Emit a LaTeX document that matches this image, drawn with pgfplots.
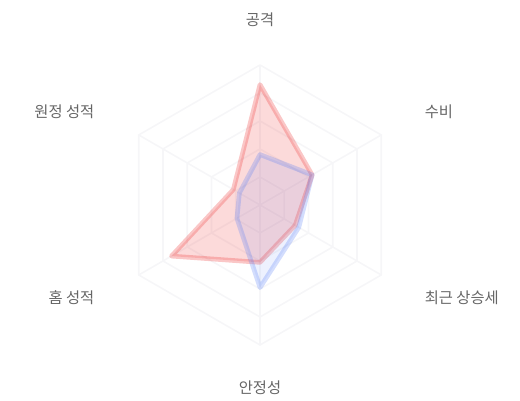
\documentclass[border=0pt]{standalone}
\usepackage{fontspec}
\setmainfont{Noto Sans CJK KR}
\usepackage{pgfplots}
\pgfplotsset{compat=1.18}

\definecolor{gridc}{HTML}{F6F6F8}
\definecolor{redc}{RGB}{239,68,68}
\definecolor{bluec}{RGB}{79,120,246}
\definecolor{labc}{HTML}{666666}

\begin{document}
\begin{tikzpicture}[lab/.style={font=\fontsize{11.5}{13}\selectfont, text=labc}]
\begin{axis}[
  width=390pt, height=300pt,
  scale only axis,
  hide axis,
  clip=false,
  xmin=-1.857, xmax=1.857,
  ymin=-1.393, ymax=1.464,
  data cs=polar,
]
\path (rel axis cs:0,0) rectangle (rel axis cs:1,1);

% grid rings
\foreach \r in {0.2,0.4,0.6,0.8,1.0} {
  \addplot[gridc, line width=1.2pt] coordinates {
    (90,\r) (30,\r) (-30,\r) (-90,\r) (210,\r) (150,\r) (90,\r)};
}
% spokes
\addplot[gridc, line width=1.2pt] coordinates {(90,0) (90,1)};
\addplot[gridc, line width=1.2pt] coordinates {(30,0) (30,1)};
\addplot[gridc, line width=1.2pt] coordinates {(-30,0) (-30,1)};
\addplot[gridc, line width=1.2pt] coordinates {(-90,0) (-90,1)};
\addplot[gridc, line width=1.2pt] coordinates {(210,0) (210,1)};
\addplot[gridc, line width=1.2pt] coordinates {(150,0) (150,1)};

% red series
\addplot[draw=redc, draw opacity=0.3, line width=3.5pt, fill=redc, fill opacity=0.2, line join=round]
  coordinates {(90,0.86) (30,0.43) (-30,0.29) (-90,0.41) (210,0.73) (150,0.22)} -- cycle;

% blue series
\addplot[draw=bluec, draw opacity=0.25, line width=3.5pt, fill=bluec, fill opacity=0.10, line join=round]
  coordinates {(90,0.36) (30,0.43) (-30,0.32) (-90,0.59) (210,0.19) (150,0.17)} -- cycle;

\node[lab] at (axis cs:0,1.321) {공격};
\node[lab, anchor=west] at (axis cs:1.143,0.664) {수비};
\node[lab, anchor=west] at (axis cs:1.143,-0.664) {최근 상승세};
\node[lab] at (axis cs:0,-1.307) {안정성};
\node[lab, anchor=east] at (axis cs:-1.15,-0.664) {홈 성적};
\node[lab, anchor=east] at (axis cs:-1.15,0.664) {원정 성적};
\end{axis}
\end{tikzpicture}
\end{document}
